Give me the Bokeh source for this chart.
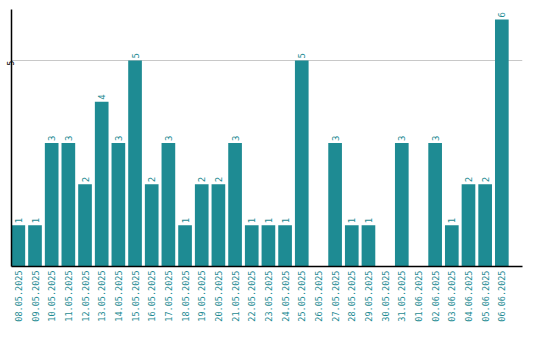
from math import pi
from bokeh.plotting import figure
from bokeh.models import ColumnDataSource, FixedTicker, LabelSet, Range1d
from bokeh.core.properties import value
from bokeh.embed import file_html
from bokeh.resources import INLINE

dates = ["08.05.2025", "09.05.2025", "10.05.2025", "11.05.2025", "12.05.2025",
         "13.05.2025", "14.05.2025", "15.05.2025", "16.05.2025", "17.05.2025",
         "18.05.2025", "19.05.2025", "20.05.2025", "21.05.2025", "22.05.2025",
         "23.05.2025", "24.05.2025", "25.05.2025", "26.05.2025", "27.05.2025",
         "28.05.2025", "29.05.2025", "30.05.2025", "31.05.2025", "01.06.2025",
         "02.06.2025", "03.06.2025", "04.06.2025", "05.06.2025", "06.06.2025"]
counts = [1, 1, 3, 3, 2, 4, 3, 5, 2, 3,
          1, 2, 2, 3, 1, 1, 1, 5, 0, 3,
          1, 1, 0, 3, 0, 3, 1, 2, 2, 6]
y_ticks = [5]

TEAL = "#1e8b93"
FONT = "DejaVu Sans Mono"

idx = list(range(len(dates)))
labels = [str(c) if c > 0 else "" for c in counts]
src = ColumnDataSource(dict(x=idx, y=counts, lab=labels))

BW = 0.82
p = figure(x_range=Range1d(-BW / 2, len(dates) + 0.24), y_range=(0, 6.24),
           width=524, height=324,
           output_backend="svg", toolbar_location=None,
           min_border_left=10, min_border_right=2, min_border_top=9, min_border_bottom=0)
p.outline_line_color = None
p.background_fill_color = "white"

p.vbar(x="x", top="y", width=BW, source=src, color=TEAL, line_color=None)

ls = LabelSet(x="x", y="y", text="lab", source=src, angle=pi / 2,
              text_align="left", text_baseline="middle", y_offset=2,
              text_color=TEAL, text_font=value(FONT), text_font_size="9px")
p.add_layout(ls)

p.xgrid.grid_line_color = None
p.ygrid.grid_line_color = "#c8c8c8"
p.ygrid.grid_line_width = 1

p.yaxis.ticker = FixedTicker(ticks=y_ticks)
p.yaxis.major_label_orientation = pi / 2
p.yaxis.major_label_text_font = FONT
p.yaxis.major_label_text_font_size = "8px"
p.yaxis.major_label_text_color = "black"
p.yaxis.major_tick_line_color = None
p.yaxis.minor_tick_line_color = None
p.yaxis.major_tick_out = 0
p.yaxis.major_tick_in = 0
p.yaxis.major_label_standoff = 1
p.yaxis.axis_line_color = "black"
p.yaxis.axis_line_width = 1.5

p.xaxis.ticker = FixedTicker(ticks=idx)
p.xaxis.major_label_overrides = {i: d for i, d in zip(idx, dates)}
p.xaxis.major_label_orientation = pi / 2
p.xaxis.major_label_text_font = FONT
p.xaxis.major_label_text_font_size = "8.5px"
p.xaxis.major_label_text_color = TEAL
p.xaxis.major_tick_line_color = None
p.xaxis.minor_tick_line_color = None
p.xaxis.major_tick_out = 0
p.xaxis.major_tick_in = 0
p.xaxis.major_label_standoff = 4
p.xaxis.axis_line_color = "black"
p.xaxis.axis_line_width = 1.5

open("out.html", "w").write(file_html(p, INLINE))
